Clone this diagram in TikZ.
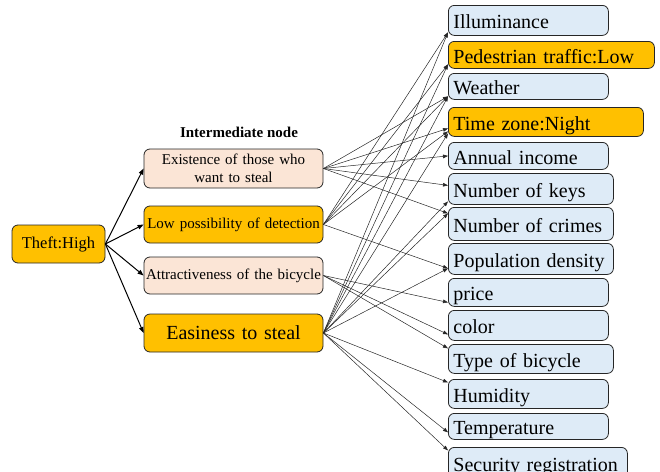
\documentclass[tikz,border=0pt]{standalone}
\usepackage{fontspec}
\setmainfont{Liberation Serif}
\usetikzlibrary{arrows.meta}
\definecolor{gold}{HTML}{FFC000}
\definecolor{lpink}{HTML}{FBE5D6}
\definecolor{lblue}{HTML}{DEEBF7}
\begin{document}
\begin{tikzpicture}[x=1pt,y=-1pt,
  base/.style={draw=black!85, rounded corners=6pt, line width=0.8pt, inner sep=0pt},
  rbox/.style={base, fill=lblue, anchor=north west, inner xsep=5pt, align=left, text height=17pt, text depth=0pt, font=\fontsize{20}{22}\selectfont},
  rgold/.style={rbox, fill=gold},
  mbox/.style={base, minimum width=179pt, minimum height=38pt, text width=177pt, align=center, font=\fontsize{15}{18}\selectfont},
  e/.style={-{Triangle[length=5pt,width=3.6pt]}, line width=0.5pt, draw=black!85},
  tb/.style={-{Triangle[length=6pt,width=4.5pt]}, line width=1pt, draw=black}]
\useasboundingbox (0,0) rectangle (660,471);

% left node
\node[base, fill=gold, minimum width=93pt, minimum height=38pt, font=\fontsize{16.5}{20}\selectfont] (theft) at (58.5,244) {Theft:High};

% label
\node[font=\bfseries\fontsize{15}{18}\selectfont] (lab) at (239,132) {Intermediate node};

% intermediate nodes
\node[mbox, fill=lpink, minimum height=39pt] (ex) at (233.5,168.5) {Existence of those who\\want to steal};
\node[mbox, fill=gold, minimum height=37pt] (low) at (233.5,224.5) {Low possibility of detection};
\node[mbox, fill=lpink, minimum height=37pt] (att) at (233.5,275.5) {Attractiveness of the bicycle};
\node[mbox, fill=gold, minimum height=38pt, font=\fontsize{20}{24}\selectfont] (eas) at (233.5,333) {Easiness to steal};

% right nodes
\node[rbox, text width=150pt, minimum height=30pt] (ill) at (448,5) {Illuminance};
\node[rgold, text width=196pt, minimum height=27pt] (ped) at (448,41) {Pedestrian traffic:Low};
\node[rbox, text width=150pt, minimum height=26pt] (wea) at (448,73) {Weather};
\node[rgold, text width=185pt, minimum height=29pt] (tz) at (448,107) {Time zone:Night};
\node[rbox, text width=150pt, minimum height=27pt] (ann) at (448,142) {Annual income};
\node[rbox, text width=155pt, minimum height=31pt] (keys) at (448,173) {Number of keys};
\node[rbox, text width=155pt, minimum height=33pt] (cri) at (448,207) {Number of crimes};
\node[rbox, text width=155pt, minimum height=31pt] (pop) at (448,243) {Population density};
\node[rbox, text width=150pt, minimum height=28pt] (pri) at (448,278) {price};
\node[rbox, text width=150pt, minimum height=30pt] (col) at (448,310) {color};
\node[rbox, text width=155pt, minimum height=29pt] (typ) at (448,344) {Type of bicycle};
\node[rbox, text width=150pt, minimum height=29pt] (hum) at (448,379) {Humidity};
\node[rbox, text width=150pt, minimum height=26pt] (tem) at (448,413) {Temperature};
\node[rbox, text width=169pt, minimum height=32pt] (sec) at (448,447) {Security registration};

% theft -> intermediate
\draw[tb] (theft.east) -- (ex.west);
\draw[tb] (theft.east) -- (low.west);
\draw[tb] (theft.east) -- (att.west);
\draw[tb] (theft.east) -- (eas.west);

% existence
\draw[e] (ex.east) -- ([yshift=-10pt]wea.west);
\draw[e] (ex.east) -- ([yshift=-6.5pt]tz.west);
\draw[e] (ex.east) -- (ann.west);
\draw[e] (ex.east) -- ([yshift=3.5pt]keys.west);
\draw[e] (ex.east) -- ([yshift=10.5pt]cri.west);

% low possibility
\draw[e] (low.east) -- ([yshift=-12pt]ill.west);
\draw[e] (low.east) -- ([yshift=-9.5pt]ped.west);
\draw[e] (low.east) -- ([yshift=-10pt]wea.west);
\draw[e] (low.east) -- ([yshift=-9.5pt]tz.west);
\draw[e] (low.east) -- ([yshift=-9.5pt]pop.west);

% attractiveness
\draw[e] (att.east) -- ([yshift=-10pt]pri.west);
\draw[e] (att.east) -- ([yshift=-9pt]col.west);
\draw[e] (att.east) -- ([yshift=10.5pt]typ.west);

% easiness
\draw[e] (eas.east) -- ([yshift=-12pt]ill.west);
\draw[e] (eas.east) -- ([yshift=-9.5pt]ped.west);
\draw[e] (eas.east) -- ([yshift=-10pt]wea.west);
\draw[e] (eas.east) -- ([yshift=-11.5pt]tz.west);
\draw[e] (eas.east) -- ([yshift=-12.5pt]keys.west);
\draw[e] (eas.east) -- ([yshift=10.5pt]cri.west);
\draw[e] (eas.east) -- ([yshift=-9.5pt]pop.west);
\draw[e] (eas.east) -- ([yshift=11.5pt]hum.west);
\draw[e] (eas.east) -- ([yshift=-6pt]tem.west);
\draw[e] (eas.east) -- ([yshift=13pt]sec.west);
\end{tikzpicture}
\end{document}
